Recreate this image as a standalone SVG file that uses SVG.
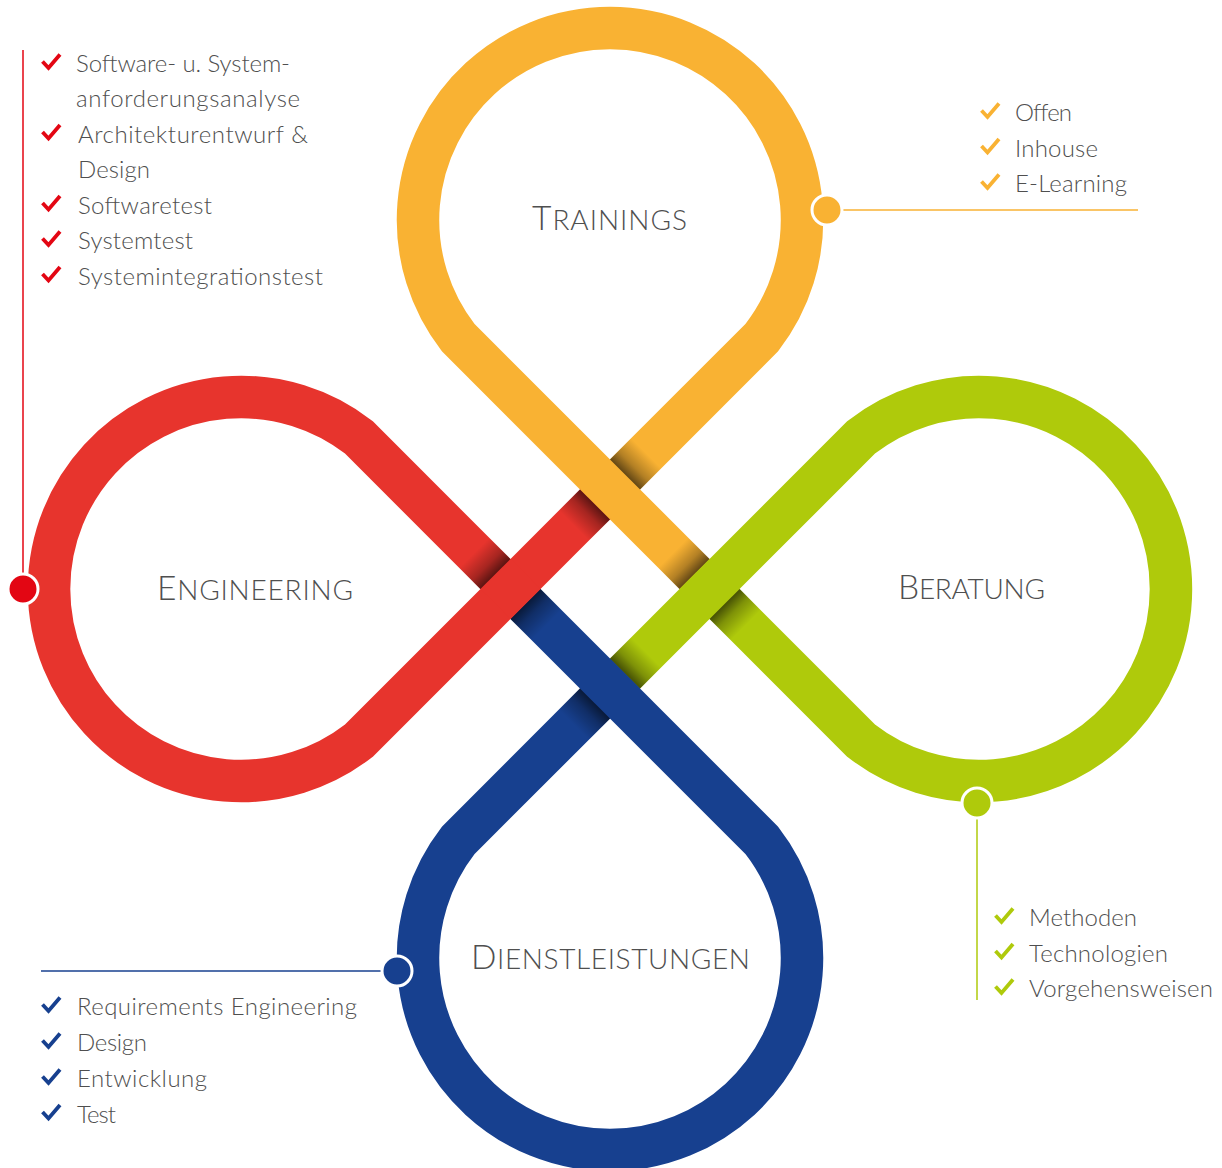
<svg xmlns="http://www.w3.org/2000/svg" width="1222" height="1168" viewBox="0 0 1222 1168">
<defs>
<style>
.t{font-family:Lato,"Liberation Sans",sans-serif;font-weight:300;font-size:24px;fill:#4f4f4f}
.h{font-family:Lato,"Liberation Sans",sans-serif;font-weight:300;fill:#4f4f4f;font-size:28px}
.h .c{font-size:33.5px}
.ck{fill:none;stroke-width:3.8;stroke-linejoin:miter;stroke-linecap:butt}
.dot{stroke:#fff;stroke-width:3}
.ln{stroke-width:1.5;fill:none}
</style>
<linearGradient id="sh" x1="0" y1="0" x2="1" y2="0">
<stop offset="0" stop-color="#000" stop-opacity="0"/>
<stop offset="0.6" stop-color="#000" stop-opacity="0.28"/>
<stop offset="1" stop-color="#000" stop-opacity="0.6"/>
</linearGradient>
<linearGradient id="shv" x1="0" y1="0" x2="0" y2="1">
<stop offset="0" stop-color="#000" stop-opacity="0"/>
<stop offset="0.6" stop-color="#000" stop-opacity="0.28"/>
<stop offset="1" stop-color="#000" stop-opacity="0.6"/>
</linearGradient>
<path id="loop" fill="none" stroke-width="42.5" stroke-linejoin="miter" d="M 50.15 -70.4 L -284.9 -70.4 A 192 192 0 1 1 -70.4 -284.9 L -70.4 -90.65"/>
<g id="top">
<rect x="-91.65" y="-91.65" width="42.5" height="42.5"/>
<rect x="19.15" y="-91.65" width="30" height="42.5" fill="url(#sh)"/>
<rect x="-91.65" y="-121.65" width="42.5" height="30" fill="url(#shv)"/>
</g>
<path id="ck" d="M0 -10.5 L6 -4 L17.5 -17.5"/>
</defs>
<rect width="1222" height="1168" fill="#fff"/>

<g id="ribbons" transform="translate(610 589) rotate(45)">
<use href="#loop" stroke="#F9B233"/>
<use href="#loop" stroke="#AFCA0B" transform="rotate(90)"/>
<use href="#loop" stroke="#17408F" transform="rotate(180)"/>
<use href="#loop" stroke="#E7342D" transform="rotate(270)"/>
<use href="#top" fill="#F9B233"/>
<use href="#top" fill="#AFCA0B" transform="rotate(90)"/>
<use href="#top" fill="#17408F" transform="rotate(180)"/>
<use href="#top" fill="#E7342D" transform="rotate(270)"/>
</g>

<g id="connectors">
<line class="ln" x1="23" y1="50" x2="23" y2="589" stroke="#E30613"/>
<line class="ln" x1="827" y1="210" x2="1138" y2="210" stroke="#F9B233"/>
<line class="ln" x1="977" y1="803" x2="977" y2="1000" stroke="#AFCA0B"/>
<line class="ln" x1="41" y1="971" x2="397" y2="971" stroke="#17408F"/>
</g>

<g id="trainings">
<text class="h" x="532" y="230" textLength="155"><tspan class="c">T</tspan>RAININGS</text>
<circle class="dot" cx="827" cy="210" r="15" fill="#F9B233"/>
<g class="ck" stroke="#F9B233">
<use href="#ck" x="981.5" y="121"/>
<use href="#ck" x="981.5" y="156.5"/>
<use href="#ck" x="981.5" y="192"/>
</g>
<text class="t" x="1015" y="121" textLength="57">Offen</text>
<text class="t" x="1015" y="156.5" textLength="83">Inhouse</text>
<text class="t" x="1015" y="192" textLength="112">E-Learning</text>
</g>

<g id="engineering">
<text class="h" x="157" y="600" textLength="196"><tspan class="c">E</tspan>NGINEERING</text>
<circle class="dot" cx="23" cy="589" r="15" fill="#E30613"/>
<g class="ck" stroke="#E30613">
<use href="#ck" x="42.5" y="72"/>
<use href="#ck" x="42.5" y="142.5"/>
<use href="#ck" x="42.5" y="213.5"/>
<use href="#ck" x="42.5" y="249"/>
<use href="#ck" x="42.5" y="284.5"/>
</g>
<text class="t" x="76" y="72" textLength="214">Software- u. System-</text>
<text class="t" x="76" y="107" textLength="224">anforderungsanalyse</text>
<text class="t" x="78" y="142.5" textLength="230">Architekturentwurf &amp;</text>
<text class="t" x="78" y="178" textLength="72">Design</text>
<text class="t" x="78" y="213.5" textLength="134">Softwaretest</text>
<text class="t" x="78" y="249" textLength="115">Systemtest</text>
<text class="t" x="78" y="284.5" textLength="245">Systemintegrationstest</text>
</g>

<g id="beratung">
<text class="h" x="898" y="599" textLength="147"><tspan class="c">B</tspan>ERATUNG</text>
<circle class="dot" cx="977" cy="803" r="15" fill="#AFCA0B"/>
<g class="ck" stroke="#AFCA0B">
<use href="#ck" x="995.5" y="926"/>
<use href="#ck" x="995.5" y="961.5"/>
<use href="#ck" x="995.5" y="997"/>
</g>
<text class="t" x="1029" y="926" textLength="108">Methoden</text>
<text class="t" x="1029" y="961.5" textLength="139">Technologien</text>
<text class="t" x="1029" y="997" textLength="184">Vorgehensweisen</text>
</g>

<g id="dienstleistungen">
<text class="h" x="471" y="969" textLength="279"><tspan class="c">D</tspan>IENSTLEISTUNGEN</text>
<circle class="dot" cx="397" cy="971" r="15" fill="#17408F"/>
<g class="ck" stroke="#17408F">
<use href="#ck" x="42.5" y="1015"/>
<use href="#ck" x="42.5" y="1051"/>
<use href="#ck" x="42.5" y="1087"/>
<use href="#ck" x="42.5" y="1122.5"/>
</g>
<text class="t" x="77" y="1015" textLength="280">Requirements Engineering</text>
<text class="t" x="77" y="1051" textLength="70">Design</text>
<text class="t" x="77" y="1087" textLength="130">Entwicklung</text>
<text class="t" x="77" y="1122.5" textLength="39">Test</text>
</g>
</svg>
